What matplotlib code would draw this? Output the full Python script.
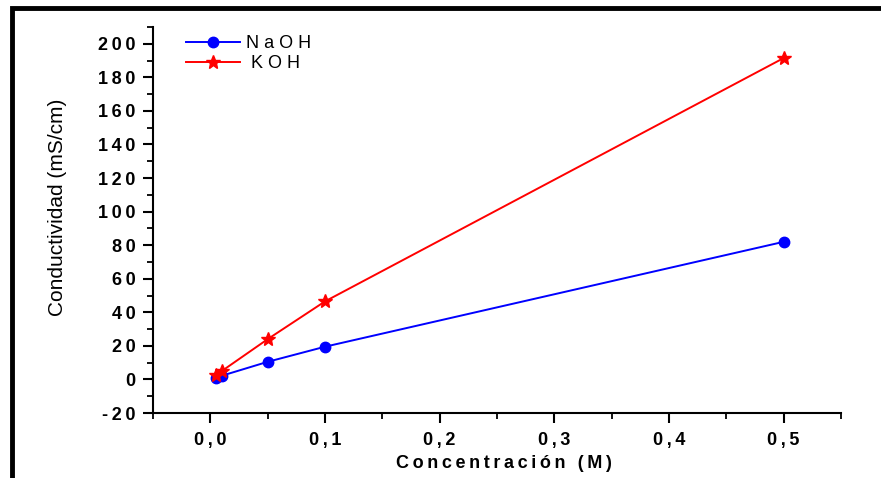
import matplotlib
matplotlib.use("Agg")
import matplotlib.pyplot as plt
from matplotlib.ticker import MultipleLocator, FuncFormatter
from matplotlib.patches import Rectangle

conc = [0.005, 0.01, 0.05, 0.1, 0.5]
naoh = [1.0, 2.2, 10.5, 19.5, 82.0]
koh = [2.5, 5.0, 24.0, 46.5, 191.5]
labels = ["N a O H", " K O H"]
xlabel = "Concentración (M)"
ylabel = "Conductividad (mS/cm)"

sans = ["Liberation Sans", "DejaVu Sans"]
TS = "\u2009"  # thin space for letter spacing


def spaced(s, sep):
    return sep.join(list(s))


fig = plt.figure(figsize=(8.81, 4.78), dpi=100)
# outer frame (cropped figure border)
fig.add_artist(Rectangle((11.5/881, -0.1), 2.0, 1.1 - 8/478, transform=fig.transFigure,
                         fill=False, edgecolor="black", linewidth=3.5))

ax = fig.add_axes([153/881, 1 - 413/478, (841 - 153)/881, (413 - 27)/478])
ax.plot(conc, naoh, color="#0000ff", marker="o", markersize=7.5, linewidth=1.4,
        label=labels[0])
ax.plot(conc, koh, color="#ff0000", marker="*", markersize=10, linewidth=1.4,
        label=labels[1])

ax.set_xlim(-0.05, 0.55)
ax.set_ylim(-20, 210)
ax.spines["top"].set_visible(False)
ax.spines["right"].set_visible(False)
for s in ("left", "bottom"):
    ax.spines[s].set_linewidth(1.5)

ax.xaxis.set_major_locator(MultipleLocator(0.1))
ax.xaxis.set_minor_locator(MultipleLocator(0.05))
ax.yaxis.set_major_locator(MultipleLocator(20))
ax.yaxis.set_minor_locator(MultipleLocator(10))
ax.xaxis.set_major_formatter(FuncFormatter(
    lambda v, p: spaced(f"{v:.1f}".replace(".", ","), TS)))
ax.yaxis.set_major_formatter(FuncFormatter(
    lambda v, p: spaced(f"{v:.0f}", TS)))
ax.tick_params(which="major", direction="out", length=7.5, width=1.5)
ax.tick_params(which="minor", direction="out", length=4, width=1.3)
ax.tick_params(axis="x", pad=6)
ax.tick_params(axis="y", pad=5)
for lab in ax.get_xticklabels() + ax.get_yticklabels():
    lab.set_family(sans)
    lab.set_fontweight("bold")
    lab.set_fontsize(13)

ax.set_xlabel(spaced(xlabel, TS), family=sans, fontweight="bold", fontsize=13)
ax.xaxis.set_label_coords(0.5095, -0.108)
ax.set_ylabel(ylabel, family=sans, fontsize=15)
ax.yaxis.set_label_coords(-0.125, 0.532)

leg = ax.legend(loc="upper left", bbox_to_anchor=(0.048, 0.979), frameon=False,
                borderpad=0, borderaxespad=0,
                handlelength=3.0, handletextpad=0.33, labelspacing=0.17,
                prop={"family": sans, "size": 13})

fig.savefig("out.png", dpi=100)
